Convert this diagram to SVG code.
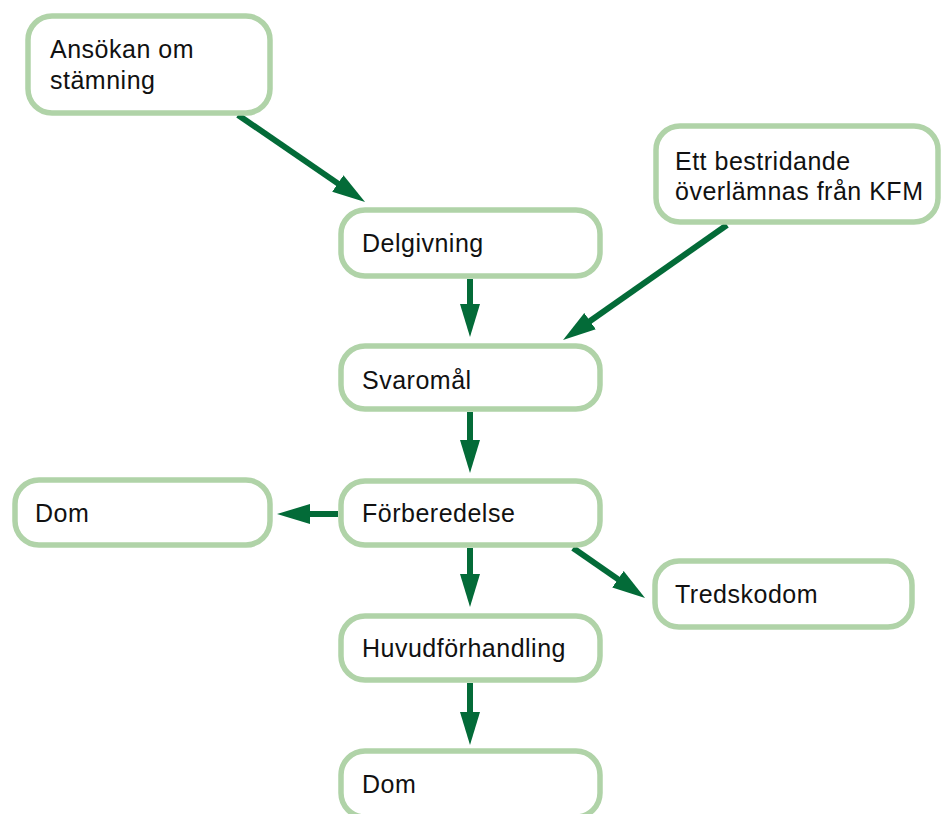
<svg xmlns="http://www.w3.org/2000/svg" width="941" height="814" viewBox="0 0 941 814">
<style>
.box{fill:#ffffff;stroke:#b0d3a8;stroke-width:5.5}
.lbl{font-family:"Liberation Sans",Arial,sans-serif;font-size:25px;letter-spacing:0.5px;fill:#111111}
.edge{stroke:#036b38;stroke-width:6;fill:none;marker-end:url(#ah)}
</style>
<defs>
<marker id="ah" markerUnits="userSpaceOnUse" markerWidth="40" markerHeight="24" viewBox="0 -12 40 24" refX="3" refY="0" orient="auto">
<path d="M0,-10 L33,0 L0,10 z" fill="#036b38"/>
</marker>
</defs>
<rect width="941" height="814" fill="#ffffff"/>
<g id="connectors">
<line class="edge" x1="238" y1="115" x2="340.3" y2="185.1"/>
<line class="edge" x1="470" y1="279" x2="470" y2="307"/>
<line class="edge" x1="727" y1="225" x2="587.6" y2="322.8"/>
<line class="edge" x1="470" y1="412" x2="470" y2="443"/>
<line class="edge" x1="338" y1="514" x2="307" y2="514"/>
<line class="edge" x1="470" y1="548" x2="470" y2="577"/>
<line class="edge" x1="573" y1="548" x2="620.4" y2="580.9"/>
<line class="edge" x1="470" y1="683" x2="470" y2="715"/>
</g>
<g id="n-ansokan">
<rect class="box" x="28" y="16" width="242" height="97" rx="24"/>
<text class="lbl" x="50" y="58">Ansökan om</text>
<text class="lbl" x="50" y="89">stämning</text>
</g>
<g id="n-bestridande">
<rect class="box" x="656" y="126" width="282" height="96" rx="24"/>
<text class="lbl" x="675" y="170">Ett bestridande</text>
<text class="lbl" x="675" y="200">överlämnas från KFM</text>
</g>
<g id="n-delgivning">
<rect class="box" x="341" y="210" width="259" height="66" rx="24"/>
<text class="lbl" x="362" y="252">Delgivning</text>
</g>
<g id="n-svaromal">
<rect class="box" x="341" y="346" width="259" height="63" rx="24"/>
<text class="lbl" x="362" y="389">Svaromål</text>
</g>
<g id="n-forberedelse">
<rect class="box" x="341" y="481" width="259" height="64" rx="24"/>
<text class="lbl" x="362" y="522">Förberedelse</text>
</g>
<g id="n-dom-left">
<rect class="box" x="15" y="480" width="255" height="65" rx="24"/>
<text class="lbl" x="35" y="522">Dom</text>
</g>
<g id="n-tredskodom">
<rect class="box" x="655" y="561" width="257" height="66" rx="24"/>
<text class="lbl" x="675" y="603">Tredskodom</text>
</g>
<g id="n-huvudforhandling">
<rect class="box" x="341" y="616" width="259" height="64" rx="24"/>
<text class="lbl" x="362" y="657">Huvudförhandling</text>
</g>
<g id="n-dom-bottom">
<rect class="box" x="341" y="751" width="259" height="66" rx="24"/>
<text class="lbl" x="362" y="793">Dom</text>
</g>
</svg>
